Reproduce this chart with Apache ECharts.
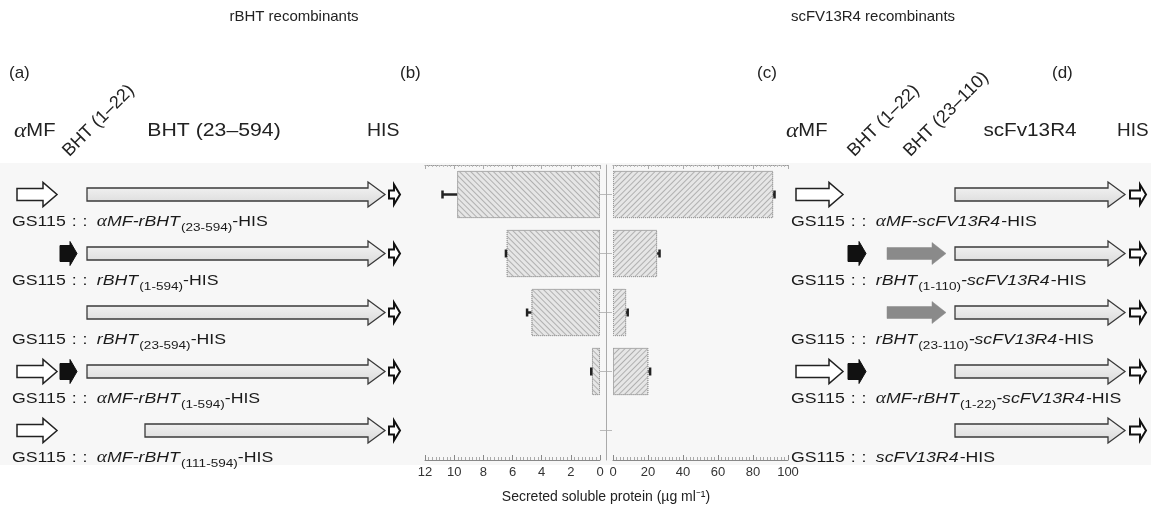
<!DOCTYPE html>
<html>
<head>
<meta charset="utf-8">
<script src="https://cdn.jsdelivr.net/npm/echarts@6/dist/echarts.min.js"></script>
<style>
  html, body { margin: 0; background: #fff; }
  #chart { width: 1151px; height: 515px; }
</style>
</head>
<body>
<div id="chart"></div>
<script>
// rows of the figure, top to bottom
const rbhtConstructs = ["αMF-rBHT(23-594)", "rBHT(1-594)", "rBHT(23-594)", "αMF-rBHT(1-594)", "αMF-rBHT(111-594)"];
// secreted soluble protein, µg/ml
const rbhtMean = [9.8, 6.4, 4.7, 0.55, 0];
const rbhtErr = [1.0, 0.05, 0.3, 0.05, 0];
const scfvMean = [91.5, 25.2, 7.5, 20.2, 0];
const scfvErr = [0.8, 1.4, 0.9, 1.0, 0];

// gene blocks of each construct
const leftParts = [
  ["aMF", "bht23_594", "his"],
  ["bht1_22", "bht23_594", "his"],
  ["bht23_594", "his"],
  ["aMF", "bht1_22", "bht23_594", "his"],
  ["aMF", "bht111_594", "his"],
];
const rightParts = [
  ["aMF", "scfv", "his"],
  ["bht1_22", "bht23_110", "scfv", "his"],
  ["bht23_110", "scfv", "his"],
  ["aMF", "bht1_22", "scfv", "his"],
  ["scfv", "his"],
];

const PRE = "{n|GS115}{c|:}{d|:}";
const leftLabels = [
  PRE + "{a|α}{i|MF-rBHT}{s|(23-594)}{n|-HIS}",
  PRE + "{i|rBHT}{s|(1-594)}{n|-HIS}",
  PRE + "{i|rBHT}{s|(23-594)}{n|-HIS}",
  PRE + "{a|α}{i|MF-rBHT}{s|(1-594)}{n|-HIS}",
  PRE + "{a|α}{i|MF-rBHT}{s|(111-594)}{n|-HIS}",
];
const rightLabels = [
  PRE + "{a|α}{i|MF-scFV13R4}{n|-HIS}",
  PRE + "{i|rBHT}{s|(1-110)}{i|-scFV13R4}{n|-HIS}",
  PRE + "{i|rBHT}{s|(23-110)}{i|-scFV13R4}{n|-HIS}",
  PRE + "{a|α}{i|MF-rBHT}{s|(1-22)}{i|-scFV13R4}{n|-HIS}",
  PRE + "{i|scFV13R4}{n|-HIS}",
];

// layout of the diagram tracks (track units = px inside each panel)
const leftSpan = { aMF: [17, 57], bht1_22: [60, 77], bht23_594: [87, 385], bht111_594: [145, 385], his: [389, 400] };
const rightSpan = { aMF: [36, 83], bht1_22: [88, 106], bht23_110: [127, 186], scfv: [195, 365], his: [370, 386] };

const FONT = "Liberation Sans";
const SX = 1.18; // the source figure's lettering is stretched sideways
const longFill = new echarts.graphic.LinearGradient(0, 0, 0, 1, [
  { offset: 0, color: "#f7f7f7" },
  { offset: 1, color: "#d8d8d8" },
]);
const shapes = {
  aMF: { b: 6, h: 12, l: 14, fill: "#fff", stroke: "#222", lw: 1.5 },
  bht1_22: { b: 8, h: 12, l: 7, fill: "#111", stroke: "#111", lw: 1 },
  bht23_110: { b: 6, h: 11, l: 14, fill: "#8a8a8a", stroke: "#8a8a8a", lw: 0.5 },
  bht23_594: { b: 6.5, h: 12.5, l: 17, fill: longFill, stroke: "#3a3a3a", lw: 1.3 },
  bht111_594: { b: 6.5, h: 12.5, l: 17, fill: longFill, stroke: "#3a3a3a", lw: 1.3 },
  scfv: { b: 6.5, h: 12.5, l: 17, fill: longFill, stroke: "#3a3a3a", lw: 1.3 },
  his: { b: 4, h: 10, l: 6, fill: "#fff", stroke: "#111", lw: 2 },
};
const kinds = Object.keys(shapes);

function partData(parts, span) {
  const out = [];
  parts.forEach((row, r) => {
    row.forEach((k) => out.push([span[k][0], span[k][1], r, kinds.indexOf(k)]));
  });
  return out;
}

function renderArrow(params, api) {
  const s = shapes[kinds[api.value(3)]];
  const p0 = api.coord([api.value(0), api.value(2)]);
  const p1 = api.coord([api.value(1), api.value(2)]);
  const x0 = p0[0], x1 = p1[0], cy = p0[1];
  return {
    type: "polygon",
    shape: {
      points: [
        [x0, cy - s.b], [x1 - s.l, cy - s.b], [x1 - s.l, cy - s.h], [x1, cy],
        [x1 - s.l, cy + s.h], [x1 - s.l, cy + s.b], [x0, cy + s.b],
      ],
    },
    style: { fill: s.fill, stroke: s.stroke, lineWidth: s.lw, lineJoin: "miter" },
  };
}

function renderErr(params, api) {
  const a = api.coord([api.value(0), api.value(2)]);
  const b = api.coord([api.value(1), api.value(2)]);
  return {
    type: "group",
    children: [
      { type: "line", shape: { x1: a[0], y1: a[1], x2: b[0], y2: b[1] }, style: { stroke: "#222", lineWidth: 2.5 } },
      { type: "line", shape: { x1: b[0], y1: b[1] - 4, x2: b[0], y2: b[1] + 4 }, style: { stroke: "#222", lineWidth: 2.5 } },
    ],
  };
}

const rich = {
  n: { fontFamily: FONT, fontSize: 15, fill: "#1a1a1a", lineHeight: 24 },
  c: { fontFamily: FONT, fontSize: 15, fill: "#1a1a1a", lineHeight: 24, padding: [0, 0, 0, 5] },
  d: { fontFamily: FONT, fontSize: 15, fill: "#1a1a1a", lineHeight: 24, padding: [0, 8, 0, 5] },
  i: { fontFamily: FONT, fontSize: 15, fontStyle: "italic", fill: "#1a1a1a", lineHeight: 24, padding: [0, 1, 0, 0] },
  a: { fontFamily: "Liberation Serif", fontSize: 16.5, fontStyle: "italic", fill: "#1a1a1a", lineHeight: 24 },
  s: { fontFamily: FONT, fontSize: 11.5, fill: "#1a1a1a", lineHeight: 11, verticalAlign: "bottom" },
};

function labelSeries(labels, x, xIdx, yIdx) {
  return {
    type: "custom",
    xAxisIndex: xIdx,
    yAxisIndex: yIdx,
    silent: true,
    data: labels.map((t, r) => [x, r]),
    renderItem: (params, api) => {
      const p = api.coord([api.value(0), api.value(1)]);
      return {
        type: "text",
        x: p[0],
        y: p[1] + 27,
        scaleX: SX,
        style: { text: labels[params.dataIndex], rich: rich, align: "left", verticalAlign: "middle" },
      };
    },
  };
}

const bottomAxis = (max, interval, minorSplit, inverse, gridIndex) => ({
  type: "value",
  gridIndex: gridIndex,
  min: 0,
  max: max,
  interval: interval,
  inverse: inverse,
  position: "bottom",
  axisLine: { show: true, lineStyle: { color: "#888", width: 1 } },
  axisTick: { show: true, inside: true, length: 5, lineStyle: { color: "#888" } },
  minorTick: { show: true, splitNumber: minorSplit, length: 3, lineStyle: { color: "#aaa" } },
  splitLine: { show: false },
  axisLabel: { color: "#333", fontFamily: FONT, fontSize: 13, margin: 6 },
});
const topAxis = (max, interval, minorSplit, inverse, gridIndex) => ({
  type: "value",
  gridIndex: gridIndex,
  min: 0,
  max: max,
  interval: interval,
  inverse: inverse,
  position: "top",
  axisLine: { show: true, lineStyle: { color: "#999", type: "dotted" } },
  axisTick: { show: true, inside: true, length: 4, lineStyle: { color: "#aaa" } },
  minorTick: { show: true, splitNumber: minorSplit, length: 2, lineStyle: { color: "#bbb" } },
  splitLine: { show: false },
  axisLabel: { show: false },
});
const hiddenX = (max, gridIndex) => ({ type: "value", gridIndex: gridIndex, min: 0, max: max, show: false });
const rowAxis = (gridIndex, extra) => Object.assign({
  type: "category",
  gridIndex: gridIndex,
  inverse: true,
  data: rbhtConstructs,
  axisLine: { show: false },
  axisTick: { show: false },
  axisLabel: { show: false },
  splitLine: { show: false },
}, extra || {});

const hatch = (rot) => ({
  symbol: "rect",
  symbolSize: 1,
  dashArrayX: [1, 0],
  dashArrayY: [1, 3],
  rotation: rot,
  color: "#b0b0b0",
});

// zero-height bars would leave a stray dotted outline
const barData = (vals) => vals.map((v) => (v > 0 ? v : { value: v, itemStyle: { borderWidth: 0 } }));

const text = (x, y, str, size, align, sx) => ({
  type: "text",
  x: x,
  y: y,
  scaleX: sx || 1,
  style: { text: str, fontFamily: FONT, fontSize: size, fill: "#222", align: align || "left", verticalAlign: "middle" },
});
const rotText = (x, y, str) => ({
  type: "text",
  x: x,
  y: y,
  rotation: Math.PI / 4,
  style: { text: str, fontFamily: FONT, fontSize: 18, fill: "#222", align: "left", verticalAlign: "bottom" },
});
const alphaMF = (x, y) => ({
  type: "text",
  x: x,
  y: y,
  scaleX: 1.12,
  style: {
    text: "{a|α}{n|MF}",
    align: "left",
    verticalAlign: "middle",
    rich: {
      a: { fontFamily: "Liberation Serif", fontStyle: "italic", fontSize: 21, fill: "#222" },
      n: { fontFamily: FONT, fontSize: 18, fill: "#222" },
    },
  },
});

const option = {
  animation: false,
  backgroundColor: "#fff",
  graphic: {
    elements: [
      { type: "rect", z: -10, shape: { x: 0, y: 163, width: 1151, height: 302 }, style: { fill: "#f7f7f7" } },
      text(294, 17, "rBHT recombinants", 15, "center"),
      text(873, 17, "scFV13R4 recombinants", 15, "center"),
      text(9, 73, "(a)", 17),
      text(400, 73, "(b)", 17),
      text(757, 73, "(c)", 17),
      text(1052, 73, "(d)", 17),
      alphaMF(14, 131),
      text(214, 131, "BHT (23–594)", 18, "center", 1.18),
      text(367, 131, "HIS", 18, "left", 1.08),
      rotText(72, 160, "BHT (1–22)"),
      alphaMF(786, 131),
      text(1030, 131, "scFv13R4", 18, "center", 1.15),
      text(1117, 131, "HIS", 18, "left", 1.05),
      rotText(857, 160, "BHT (1–22)"),
      rotText(913, 160, "BHT (23–110)"),
      text(606, 497, "Secreted soluble protein (µg ml⁻¹)", 14, "center"),
    ],
  },
  grid: [
    { left: 425, width: 175, top: 165, height: 295 },
    { left: 613, width: 175, top: 165, height: 295 },
    { left: 0, width: 400, top: 165, height: 295 },
    { left: 760, width: 391, top: 165, height: 295 },
  ],
  xAxis: [
    bottomAxis(12, 2, 8, true, 0),
    bottomAxis(100, 20, 10, false, 1),
    topAxis(12, 2, 8, true, 0),
    topAxis(100, 20, 10, false, 1),
    hiddenX(400, 2),
    hiddenX(391, 3),
  ],
  yAxis: [
    rowAxis(0),
    rowAxis(1, { offset: 7, axisLine: { show: true, onZero: false, lineStyle: { color: "#aaa", width: 1 } } }),
    rowAxis(2),
    rowAxis(3),
  ],
  series: [
    {
      type: "bar",
      name: "rBHT",
      xAxisIndex: 0,
      yAxisIndex: 0,
      barWidth: "80%",
      data: barData(rbhtMean),
      itemStyle: { color: "#e6e6e6", borderColor: "#999", borderWidth: 1, borderType: "dotted", decal: hatch(Math.PI / 4) },
    },
    {
      type: "bar",
      name: "scFv13R4",
      xAxisIndex: 1,
      yAxisIndex: 1,
      barWidth: "80%",
      data: barData(scfvMean),
      itemStyle: { color: "#e6e6e6", borderColor: "#999", borderWidth: 1, borderType: "dotted", decal: hatch(-Math.PI / 4) },
    },
    {
      type: "custom",
      xAxisIndex: 0,
      yAxisIndex: 0,
      renderItem: renderErr,
      data: rbhtMean.map((m, r) => [m, m + rbhtErr[r], r]).filter((d) => d[0] > 0),
      z: 5,
    },
    {
      type: "custom",
      xAxisIndex: 1,
      yAxisIndex: 1,
      renderItem: renderErr,
      data: scfvMean.map((m, r) => [m, m + scfvErr[r], r]).filter((d) => d[0] > 0),
      z: 5,
    },
    {
      type: "scatter",
      xAxisIndex: 1,
      yAxisIndex: 1,
      symbol: "rect",
      symbolSize: [12, 1],
      symbolOffset: [-7, 0],
      itemStyle: { color: "#aaa" },
      silent: true,
      data: rbhtMean.map((m, r) => [0, r]),
    },
    { type: "custom", xAxisIndex: 4, yAxisIndex: 2, renderItem: renderArrow, data: partData(leftParts, leftSpan), silent: true },
    { type: "custom", xAxisIndex: 5, yAxisIndex: 3, renderItem: renderArrow, data: partData(rightParts, rightSpan), silent: true },
    labelSeries(leftLabels, 12, 4, 2),
    labelSeries(rightLabels, 31, 5, 3),
  ],
};

const chart = echarts.init(document.getElementById("chart"), null, { renderer: "canvas" });
chart.setOption(option);
</script>
</body>
</html>
